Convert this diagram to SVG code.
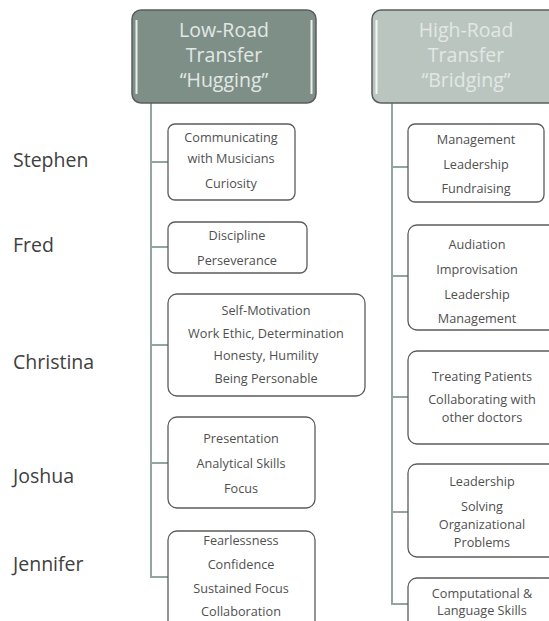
<svg xmlns="http://www.w3.org/2000/svg" width="549" height="621" viewBox="0 0 549 621">
  <style>
    .hdr { stroke: #5a5f5c; stroke-width: 1.5; }
    .hdr-t { font-family: "Open Sans", "Liberation Sans", sans-serif; font-size: 19.5px; fill: #e2e8e5; text-anchor: middle; }
    .box { fill: #ffffff; stroke: #5b5b5b; stroke-width: 1.3; }
    .bt { font-family: "Open Sans", "Liberation Sans", sans-serif; font-size: 12.7px; fill: #505050; text-anchor: middle; }
    .name { font-family: "Open Sans", "Liberation Sans", sans-serif; font-size: 19.5px; fill: #404040; }
    .link { fill: none; stroke: #93a69d; stroke-width: 2; }
    .shine { stroke: #ffffff; stroke-width: 2; opacity: 0.85; }
  </style>
  <rect width="549" height="621" fill="#ffffff"/>

  <!-- connectors -->
  <g id="connectors">
    <path class="link" d="M151 103 V577 H168"/>
    <path class="link" d="M151 162 H168 M151 247 H168 M151 345 H168 M151 463 H168"/>
    <path class="link" d="M392 103 V604 H408"/>
    <path class="link" d="M392 167 H408 M392 276 H408 M392 397 H408 M392 512 H408"/>
  </g>

  <!-- column headers -->
  <g id="low-road">
    <rect class="hdr" x="132" y="10" width="184" height="93" rx="9" fill="#7e8f88"/>
    <line class="shine" x1="136.5" y1="20" x2="136.5" y2="94"/>
    <line class="shine" x1="311.5" y1="20" x2="311.5" y2="94"/>
    <text class="hdr-t" x="224" y="37">Low-Road</text>
    <text class="hdr-t" x="224" y="62">Transfer</text>
    <text class="hdr-t" x="224" y="87">“Hugging”</text>
  </g>
  <g id="high-road">
    <rect class="hdr" x="372" y="10" width="190" height="93" rx="9" fill="#bac5c0"/>
    <line class="shine" x1="376.5" y1="20" x2="376.5" y2="94"/>
    <text class="hdr-t" x="466" y="37">High-Road</text>
    <text class="hdr-t" x="466" y="62">Transfer</text>
    <text class="hdr-t" x="466" y="87">“Bridging”</text>
  </g>

  <!-- row names -->
  <g id="names">
    <text class="name" x="13" y="167">Stephen</text>
    <text class="name" x="13" y="252">Fred</text>
    <text class="name" x="13" y="369">Christina</text>
    <text class="name" x="13" y="483">Joshua</text>
    <text class="name" x="13" y="571">Jennifer</text>
  </g>

  <!-- low-road boxes -->
  <g id="low-stephen">
    <rect class="box" x="168" y="124" width="127" height="76" rx="7"/>
    <text class="bt" x="231" y="142">Communicating</text>
    <text class="bt" x="231" y="163">with Musicians</text>
    <text class="bt" x="231" y="188">Curiosity</text>
  </g>
  <g id="low-fred">
    <rect class="box" x="168" y="222" width="139" height="51" rx="7"/>
    <text class="bt" x="237" y="240">Discipline</text>
    <text class="bt" x="237" y="265">Perseverance</text>
  </g>
  <g id="low-christina">
    <rect class="box" x="168" y="294" width="197" height="102" rx="9"/>
    <text class="bt" x="266" y="315">Self-Motivation</text>
    <text class="bt" x="266" y="338">Work Ethic, Determination</text>
    <text class="bt" x="266" y="360">Honesty, Humility</text>
    <text class="bt" x="266" y="383">Being Personable</text>
  </g>
  <g id="low-joshua">
    <rect class="box" x="168" y="417" width="147" height="91" rx="9"/>
    <text class="bt" x="241" y="443">Presentation</text>
    <text class="bt" x="241" y="468">Analytical Skills</text>
    <text class="bt" x="241" y="493">Focus</text>
  </g>
  <g id="low-jennifer">
    <rect class="box" x="168" y="531" width="147" height="100" rx="9"/>
    <text class="bt" x="241" y="545">Fearlessness</text>
    <text class="bt" x="241" y="569">Confidence</text>
    <text class="bt" x="241" y="593">Sustained Focus</text>
    <text class="bt" x="241" y="616">Collaboration</text>
  </g>

  <!-- high-road boxes -->
  <g id="high-stephen">
    <rect class="box" x="408" y="124" width="136" height="78" rx="7"/>
    <text class="bt" x="476" y="144">Management</text>
    <text class="bt" x="476" y="169">Leadership</text>
    <text class="bt" x="476" y="193">Fundraising</text>
  </g>
  <g id="high-fred">
    <rect class="box" x="408" y="225" width="150" height="105" rx="9"/>
    <text class="bt" x="477" y="249">Audiation</text>
    <text class="bt" x="477" y="274">Improvisation</text>
    <text class="bt" x="477" y="299">Leadership</text>
    <text class="bt" x="477" y="323">Management</text>
  </g>
  <g id="high-christina">
    <rect class="box" x="408" y="351" width="150" height="93" rx="9"/>
    <text class="bt" x="482" y="381">Treating Patients</text>
    <text class="bt" x="482" y="404">Collaborating with</text>
    <text class="bt" x="482" y="422">other doctors</text>
  </g>
  <g id="high-joshua">
    <rect class="box" x="408" y="464" width="150" height="93" rx="9"/>
    <text class="bt" x="482" y="486">Leadership</text>
    <text class="bt" x="482" y="511">Solving</text>
    <text class="bt" x="482" y="529">Organizational</text>
    <text class="bt" x="482" y="547">Problems</text>
  </g>
  <g id="high-jennifer">
    <rect class="box" x="408" y="578" width="150" height="60" rx="9"/>
    <text class="bt" x="482" y="598">Computational &amp;</text>
    <text class="bt" x="482" y="615">Language Skills</text>
  </g>
</svg>
